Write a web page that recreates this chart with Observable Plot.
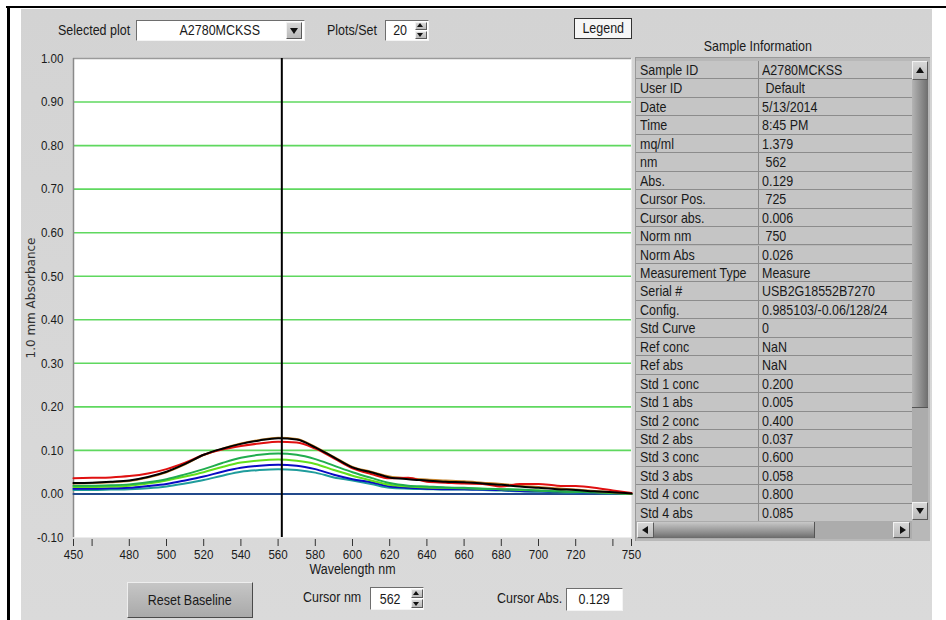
<!DOCTYPE html>
<html>
<head>
<meta charset="utf-8">
<script src="https://cdn.jsdelivr.net/npm/d3@7"></script>
<script src="https://cdn.jsdelivr.net/npm/@observablehq/plot@0.6"></script>
<style>
  html, body { margin:0; padding:0; }
  body { width:946px; height:620px; background:#fff; position:relative; overflow:hidden;
         font-family:"Liberation Sans",Arial,sans-serif; font-size:14.5px; color:#1a1a1a; }
  .abs { position:absolute; }
  .lbl { position:absolute; white-space:pre; line-height:16px; }
  .n  { display:inline-block; transform:scaleX(0.86); transform-origin:0 50%; white-space:pre; }
  .nc { display:inline-block; transform:scaleX(0.86); transform-origin:50% 50%; white-space:pre; }
  .field { position:absolute; background:#fff; border-top:1px solid #6e6e6e; border-left:1px solid #6e6e6e;
           border-right:1px solid #f4f4f4; border-bottom:1px solid #f4f4f4; box-sizing:border-box; }
  .btn { position:absolute; box-sizing:border-box; background:linear-gradient(#d8d8d8,#b9b9b9);
         border:1px solid #5a5a5a; border-top-color:#f2f2f2; border-left-color:#f2f2f2; }
  .tri-up { width:0; height:0; border-left:4px solid transparent; border-right:4px solid transparent; border-bottom:6px solid #111; position:absolute; }
  .tri-dn { width:0; height:0; border-left:4px solid transparent; border-right:4px solid transparent; border-top:6px solid #111; position:absolute; }
  .tri-l { width:0; height:0; border-top:4px solid transparent; border-bottom:4px solid transparent; border-right:6px solid #111; position:absolute; }
  .tri-r { width:0; height:0; border-top:4px solid transparent; border-bottom:4px solid transparent; border-left:6px solid #111; position:absolute; }
  .row { position:absolute; left:636px; width:276px; border-bottom:1px solid #8c8c8c; box-sizing:border-box; background:#c5c5c5; }
  .row .k { position:absolute; left:4px; top:0; line-height:18px; white-space:pre; }
  .row .v { position:absolute; left:126px; top:0; line-height:18px; white-space:pre; }
  .row .div { position:absolute; left:122px; top:0; width:1px; background:#8c8c8c; }
</style>
</head>
<body>
<div class="abs" style="left:6px;top:6px;width:940px;height:2px;background:#000"></div>
<div class="abs" style="left:7px;top:6px;width:3px;height:614px;background:#000"></div>
<div class="abs" style="left:21px;top:9px;width:911px;height:611px;background:linear-gradient(#d3d3d3,#dadada)"></div>
<div id="chart" class="abs" style="left:0;top:0"></div>
<div id="ui"></div>
<script>
// ---------- data ----------
const wavelengths = [450,460,470,480,490,500,510,520,530,540,550,560,570,580,590,600,610,620,630,640,650,660,670,680,690,700,710,720,730,740,750];
const absBlack  = [0.025,0.026,0.028,0.031,0.039,0.051,0.069,0.090,0.104,0.115,0.123,0.128,0.125,0.107,0.084,0.061,0.050,0.038,0.034,0.031,0.028,0.027,0.024,0.021,0.017,0.014,0.011,0.009,0.006,0.004,0.001];
const absRed    = [0.036,0.037,0.038,0.041,0.047,0.057,0.072,0.090,0.102,0.110,0.116,0.120,0.118,0.104,0.082,0.059,0.046,0.036,0.037,0.028,0.026,0.024,0.023,0.017,0.023,0.023,0.019,0.018,0.014,0.008,0.002];
const absOrange = [0.024,0.025,0.027,0.030,0.038,0.050,0.068,0.089,0.104,0.116,0.124,0.129,0.126,0.108,0.085,0.062,0.051,0.040,0.036,0.033,0.031,0.029,0.026,0.023,0.019,0.016,0.013,0.010,0.007,0.004,0.001];
const absGreen  = [0.019,0.019,0.020,0.022,0.027,0.034,0.045,0.057,0.071,0.083,0.090,0.093,0.090,0.080,0.065,0.050,0.037,0.025,0.019,0.017,0.015,0.014,0.012,0.011,0.010,0.008,0.006,0.005,0.004,0.003,0.000];
const absLime   = [0.016,0.016,0.017,0.019,0.024,0.031,0.040,0.050,0.062,0.072,0.077,0.079,0.076,0.069,0.055,0.042,0.031,0.021,0.017,0.015,0.014,0.013,0.012,0.011,0.009,0.008,0.006,0.005,0.004,0.002,0.000];
const absBlue   = [0.012,0.012,0.013,0.014,0.018,0.023,0.031,0.040,0.051,0.060,0.065,0.067,0.065,0.057,0.044,0.034,0.027,0.017,0.014,0.012,0.011,0.011,0.010,0.009,0.007,0.006,0.005,0.004,0.003,0.002,0.000];
const absTeal   = [0.009,0.009,0.010,0.011,0.013,0.017,0.024,0.032,0.042,0.051,0.055,0.057,0.055,0.049,0.038,0.031,0.023,0.014,0.012,0.011,0.010,0.010,0.009,0.008,0.006,0.005,0.004,0.003,0.002,0.001,0.000];
const baselineNm  = [450, 750];
const baselineAbs = [0.000, 0.000];
const cursorNm = [562];

const xDomain = [450, 750];
const yDomain = [-0.1, 1.0];
const xTickValues = [450,460,480,500,520,540,560,580,600,620,640,660,680,700,720,740,750];
const xTickLabels = ["450","","480","500","520","540","560","580","600","620","640","660","680","700","720","","750"];
const yTickValues = [-0.1,0,0.1,0.2,0.3,0.4,0.5,0.6,0.7,0.8,0.9,1.0];
const gridValues  = [0.1,0.2,0.3,0.4,0.5,0.6,0.7,0.8,0.9];
const xTitle = "Wavelength nm";
const yTitle = "1.0 mm Absorbance";

const infoLabels = ["Sample ID","User ID","Date","Time","mq/ml","nm","Abs.","Cursor Pos.","Cursor abs.","Norm nm","Norm Abs","Measurement Type","Serial #","Config.","Std Curve","Ref conc","Ref abs","Std 1 conc","Std 1 abs","Std 2 conc","Std 2 abs","Std 3 conc","Std 3 abs","Std 4 conc","Std 4 abs"];
const infoValues = ["A2780MCKSS"," Default","5/13/2014","8:45 PM","1.379"," 562","0.129"," 725","0.006"," 750","0.026","Measure","USB2G18552B7270","0.985103/-0.06/128/24","0","NaN","NaN","0.200","0.005","0.400","0.037","0.600","0.058","0.800","0.085"];

const selectedPlot = "A2780MCKSS";
const plotsPerSet = "20";
const cursorNmText = "562";
const cursorAbsText = "0.129";

// ---------- chart ----------
const series = [
  {name:"baseline", color:"#234a8c", nm:baselineNm, abs:baselineAbs},
  {name:"teal",   color:"#1f9c9c", nm:wavelengths, abs:absTeal},
  {name:"blue",   color:"#0a0ac4", nm:wavelengths, abs:absBlue},
  {name:"lime",   color:"#62e01c", nm:wavelengths, abs:absLime},
  {name:"green",  color:"#20ad4e", nm:wavelengths, abs:absGreen},
  {name:"orange", color:"#c8862e", nm:wavelengths, abs:absOrange},
  {name:"red",    color:"#e01010", nm:wavelengths, abs:absRed},
  {name:"black",  color:"#000000", nm:wavelengths, abs:absBlack}
];
const lineMarks = series.map(s =>
  Plot.line(s.nm.map((w,i) => ({nm:w, abs:s.abs[i]})),
    {x:"nm", y:"abs", stroke:s.color, strokeWidth:2, curve:"monotone-x"}));
const xLab = new Map(xTickValues.map((v,i) => [v, xTickLabels[i]]));
const xMid = (xDomain[0] + xDomain[1]) / 2;
const yMid = (yDomain[0] + yDomain[1]) / 2;

const chart = Plot.plot({
  width:640, height:600,
  marginLeft:73, marginRight:9, marginTop:58, marginBottom:63,
  style:{background:"transparent", fontFamily:'"Liberation Sans",Arial,sans-serif', fontSize:"13.5px", color:"#1a1a1a", overflow:"visible"},
  x:{domain:xDomain},
  y:{domain:yDomain},
  marks:[
    Plot.frame({fill:"white", stroke:null}),
    Plot.ruleY(gridValues, {stroke:"#5fd85f", strokeWidth:1.6}),
    Plot.ruleY([yDomain[1]], {stroke:"#9a9a9a", strokeWidth:1.5}),
    Plot.ruleX([xDomain[0]], {stroke:"#8a8a8a", strokeWidth:1.5}),
    ...lineMarks,
    Plot.ruleX(cursorNm, {stroke:"black", strokeWidth:2}),
    Plot.axisX({ticks:xTickValues, tickFormat:d => xLab.get(d), tickSize:7, tickPadding:3, dy:2, label:null, fontSize:13.5, stroke:"#333"}),
    Plot.axisY({ticks:yTickValues, tickFormat:d => d.toFixed(2), tickSize:0, tickPadding:10, label:null, fontSize:13.5}),
    Plot.text([xTitle], {text:d => d, x:() => xMid, frameAnchor:"bottom", dy:36, fontSize:14.5, fill:"#1a1a1a"}),
    Plot.text([yTitle], {text:d => d, x:() => xDomain[0], y:() => yMid, dx:-42, rotate:-90, fontSize:12, fontFamily:"DejaVu Sans", fill:"#333"})
  ]
});
// narrow the Arial-like text horizontally to imitate the condensed UI font
chart.querySelectorAll("text").forEach(t => {
  if (t.textContent === yTitle) return;
  const tr = t.getAttribute("transform");
  if (tr && tr.includes("translate")) t.setAttribute("transform", tr + " scale(0.86,1)");
  else {
    const x = +(t.getAttribute("x") || 0);
    t.setAttribute("transform", `translate(${x},0) scale(0.86,1) translate(${-x},0)`);
  }
});
document.getElementById("chart").appendChild(chart);

// ---------- UI chrome ----------
const ui = document.getElementById("ui");
function el(html){ ui.insertAdjacentHTML("beforeend", html); }
const N  = s => `<span class="n">${s}</span>`;
const NC = s => `<span class="nc">${s}</span>`;

// top controls
el(`<div class="lbl" style="left:58px;top:22px">${N("Selected plot")}</div>`);
el(`<div class="field" style="left:136px;top:20px;width:169px;height:21px"></div>`);
el(`<div class="lbl" style="left:137px;top:22px;width:166px;text-align:center">${NC(selectedPlot)}</div>`);
el(`<div class="btn" style="left:286px;top:22px;width:16px;height:17px"><div class="tri-dn" style="left:3px;top:5px"></div></div>`);
el(`<div class="lbl" style="left:327px;top:22px">${N("Plots/Set")}</div>`);
el(`<div class="field" style="left:385px;top:20px;width:44px;height:21px"></div>`);
el(`<div class="lbl" style="left:387px;top:22px;width:26px;text-align:center">${NC(plotsPerSet)}</div>`);
el(`<div class="btn" style="left:415px;top:22px;width:12px;height:8px"><div class="tri-up" style="left:1px;top:0px;border-width:0 3px 4px 3px"></div></div>`);
el(`<div class="btn" style="left:415px;top:31px;width:12px;height:8px"><div class="tri-dn" style="left:1px;top:1px;border-width:4px 3px 0 3px"></div></div>`);
el(`<div class="abs" style="left:574px;top:18px;width:58px;height:21px;box-sizing:border-box;border:1px solid #333;background:#f6f6f6;text-align:center;line-height:19px">${NC("Legend")}</div>`);

// sample information table
el(`<div class="lbl" style="left:636px;top:38px;width:244px;text-align:center">${NC("Sample Information")}</div>`);
el(`<div class="abs" style="left:635px;top:57px;width:295px;height:484px;background:#b8b8b8;border-top:1px solid #9a9a9a;border-left:1px solid #9a9a9a;box-sizing:border-box"></div>`);
infoLabels.forEach((k,i) => {
  const top = 61 + i*18.45;
  el(`<div class="row" style="top:${top}px;height:18.45px"><div class="k">${N(k)}</div><div class="div" style="height:18.45px"></div><div class="v">${N(infoValues[i])}</div></div>`);
});
// vertical scrollbar
el(`<div class="abs" style="left:912px;top:61px;width:16px;height:459px;background:#acacac"></div>`);
el(`<div class="btn" style="left:912px;top:61px;width:16px;height:19px"><div class="tri-up" style="left:3px;top:5px"></div></div>`);
el(`<div class="abs" style="left:912px;top:80px;width:16px;height:328px;background:linear-gradient(90deg,#b4b4b4,#8a8a8a 60%,#6e6e6e);border-bottom:1px solid #555;box-sizing:border-box"></div>`);
el(`<div class="btn" style="left:912px;top:502px;width:16px;height:18px"><div class="tri-dn" style="left:3px;top:5px"></div></div>`);
// horizontal scrollbar
el(`<div class="abs" style="left:636px;top:521px;width:276px;height:18px;background:#acacac"></div>`);
el(`<div class="btn" style="left:637px;top:522px;width:17px;height:16px"><div class="tri-l" style="left:4px;top:3px"></div></div>`);
el(`<div class="abs" style="left:654px;top:522px;width:161px;height:16px;background:linear-gradient(#c8c8c8,#8a8a8a 70%,#6a6a6a);border-right:1px solid #555;box-sizing:border-box"></div>`);
el(`<div class="btn" style="left:893px;top:522px;width:17px;height:16px"><div class="tri-r" style="left:6px;top:3px"></div></div>`);

// bottom controls
el(`<div class="btn" style="left:127px;top:582px;width:126px;height:36px;border:1px solid #4a4a4a;border-top-color:#eee;border-left-color:#eee;background:linear-gradient(#c6c6c6,#a9a9a9);text-align:center;line-height:34px">${NC("Reset Baseline")}</div>`);
el(`<div class="lbl" style="left:303px;top:589px">${N("Cursor nm")}</div>`);
el(`<div class="field" style="left:370px;top:587px;width:54px;height:23px"></div>`);
el(`<div class="lbl" style="left:372px;top:591px;width:36px;text-align:center">${NC(cursorNmText)}</div>`);
el(`<div class="btn" style="left:411px;top:589px;width:12px;height:9px"><div class="tri-up" style="left:1px;top:1px;border-width:0 3px 4px 3px"></div></div>`);
el(`<div class="btn" style="left:411px;top:599px;width:12px;height:9px"><div class="tri-dn" style="left:1px;top:2px;border-width:4px 3px 0 3px"></div></div>`);
el(`<div class="lbl" style="left:497px;top:590px">${N("Cursor Abs.")}</div>`);
el(`<div class="field" style="left:566px;top:588px;width:57px;height:23px"></div>`);
el(`<div class="lbl" style="left:566px;top:591px;width:57px;text-align:center">${NC(cursorAbsText)}</div>`);
</script>
</body>
</html>
